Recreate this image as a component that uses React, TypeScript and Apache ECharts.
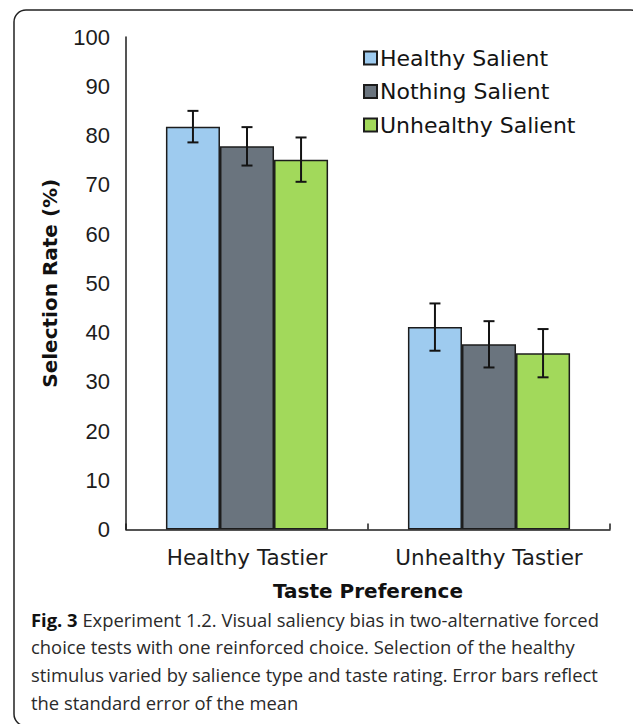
import React, { useEffect, useRef } from "react";
import * as echarts from "echarts";

// Taste preference groups on the x axis
const categories = ["Healthy Tastier", "Unhealthy Tastier"];
// Salience conditions (legend entries)
const conditionNames = ["Healthy Salient", "Nothing Salient", "Unhealthy Salient"];
const conditionColors = ["#9ecbef", "#6a747e", "#a2d95b"];

// Mean selection rate (%) per condition, ordered as categories
const healthySalient = [81.8, 41.1];
const nothingSalient = [77.8, 37.6];
const unhealthySalient = [75.1, 35.8];

// Standard error of the mean per condition
const healthySalientSE = [3.2, 4.8];
const nothingSalientSE = [3.9, 4.7];
const unhealthySalientSE = [4.5, 4.9];

// Y axis range and step
const yMin = 0;
const yMax = 100;
const yStep = 10;

const captionLines = [
  "{b|Fig. 3} Experiment 1.2. Visual saliency bias in two-alternative forced",
  "choice tests with one reinforced choice. Selection of the healthy",
  "stimulus varied by salience type and taste rating. Error bars reflect",
  "the standard error of the mean",
];

const BAR_CATEGORY_GAP = 0.33;
const AXIS_FONT = "DejaVu Sans";
const NUM_FONT = "Liberation Sans";
const CAPTION_FONT = "Open Sans";

export default function App() {
  const ref = useRef<HTMLDivElement>(null);

  useEffect(() => {
    if (!ref.current) return;
    const chart = echarts.init(ref.current, undefined, { renderer: "svg" });

    const means = [healthySalient, nothingSalient, unhealthySalient];
    const errors = [healthySalientSE, nothingSalientSE, unhealthySalientSE];

    const barSeries = conditionNames.map((name, k) => ({
      name,
      type: "bar",
      data: means[k],
      barGap: "0%",
      barCategoryGap: `${BAR_CATEGORY_GAP * 100}%`,
      itemStyle: {
        color: conditionColors[k],
        borderColor: "#1c1c1c",
        borderWidth: 1.5,
      },
      z: 2,
    }));

    const errorSeries = conditionNames.map((name, k) => ({
      name: name + " SE",
      type: "custom",
      data: categories.map((_, i) => [i, means[k][i], errors[k][i]]),
      encode: { x: 0, y: 1 },
      z: 5,
      renderItem: (_params: any, api: any) => {
        const cat = api.value(0);
        const mean = api.value(1);
        const se = api.value(2);
        const band = api.size([1, 0])[0];
        const bw = (band * (1 - BAR_CATEGORY_GAP)) / 3;
        const cx = api.coord([cat, mean])[0] + (k - 1) * bw;
        const yTop = api.coord([cat, mean + se])[1];
        const yBot = api.coord([cat, mean - se])[1];
        const half = 5.5;
        const style = { stroke: "#141414", lineWidth: 2 };
        return {
          type: "group",
          children: [
            { type: "line", shape: { x1: cx, y1: yTop, x2: cx, y2: yBot }, style },
            { type: "line", shape: { x1: cx - half, y1: yTop, x2: cx + half, y2: yTop }, style },
            { type: "line", shape: { x1: cx - half, y1: yBot, x2: cx + half, y2: yBot }, style },
          ],
        };
      },
    }));

    const captionTop = 619;
    const captionStep = 27.7;

    chart.setOption({
      animation: false,
      backgroundColor: "#ffffff",
      grid: { left: 126, right: 23, top: 37, bottom: 194.5, containLabel: false },
      legend: {
        data: conditionNames,
        orient: "vertical",
        left: 358,
        top: 42,
        icon: "rect",
        itemWidth: 13,
        itemHeight: 13,
        itemGap: 11.5,
        textStyle: { fontFamily: AXIS_FONT, fontSize: 22, color: "#141414", padding: [0, 0, 0, -2] },
        selectedMode: false,
      },
      xAxis: {
        type: "category",
        data: categories,
        axisLine: { lineStyle: { color: "#1c1c1c", width: 1.5 } },
        axisTick: { show: true, inside: true, length: 6, lineStyle: { color: "#1c1c1c", width: 1.5 } },
        axisLabel: {
          interval: 0,
          hideOverlap: false,
          fontFamily: AXIS_FONT,
          fontSize: 21.5,
          color: "#1c1c1c",
          margin: 17,
        },
        name: "Taste Preference",
        nameLocation: "middle",
        nameGap: 51,
        nameTextStyle: { fontFamily: AXIS_FONT, fontWeight: "bold", fontSize: 20, color: "#111111" },
      },
      yAxis: {
        type: "value",
        min: yMin,
        max: yMax,
        interval: yStep,
        axisLine: { show: true, lineStyle: { color: "#1c1c1c", width: 1.5 } },
        axisTick: { show: false },
        splitLine: { show: false },
        axisLabel: { fontFamily: NUM_FONT, fontSize: 22, color: "#1c1c1c", margin: 16 },
        name: "Selection Rate (%)",
        nameLocation: "middle",
        nameGap: 66,
        nameTextStyle: { fontFamily: AXIS_FONT, fontWeight: "bold", fontSize: 20, color: "#111111" },
      },
      series: [...barSeries, ...errorSeries],
      graphic: [
        {
          type: "rect",
          shape: { x: 14, y: 10, width: 629, height: 716, r: 12 },
          style: { fill: "none", stroke: "#222222", lineWidth: 1.5 },
          silent: true,
          z: 0,
        },
        ...captionLines.map((line, i) => ({
          type: "text",
          x: 31,
          y: captionTop + i * captionStep,
          style: {
            text: line,
            fontFamily: CAPTION_FONT,
            fontSize: 18.4,
            fill: "#2a2a2a",
            verticalAlign: "middle",
            rich: {
              b: { fontFamily: CAPTION_FONT, fontSize: 18.4, fontWeight: "bold", fill: "#111111" },
            },
          },
        })),
      ],
    });

    return () => chart.dispose();
  }, []);

  return (
    <div
      ref={ref}
      style={{ position: "absolute", left: 0, top: 0, width: 633, height: 724 }}
    />
  );
}
